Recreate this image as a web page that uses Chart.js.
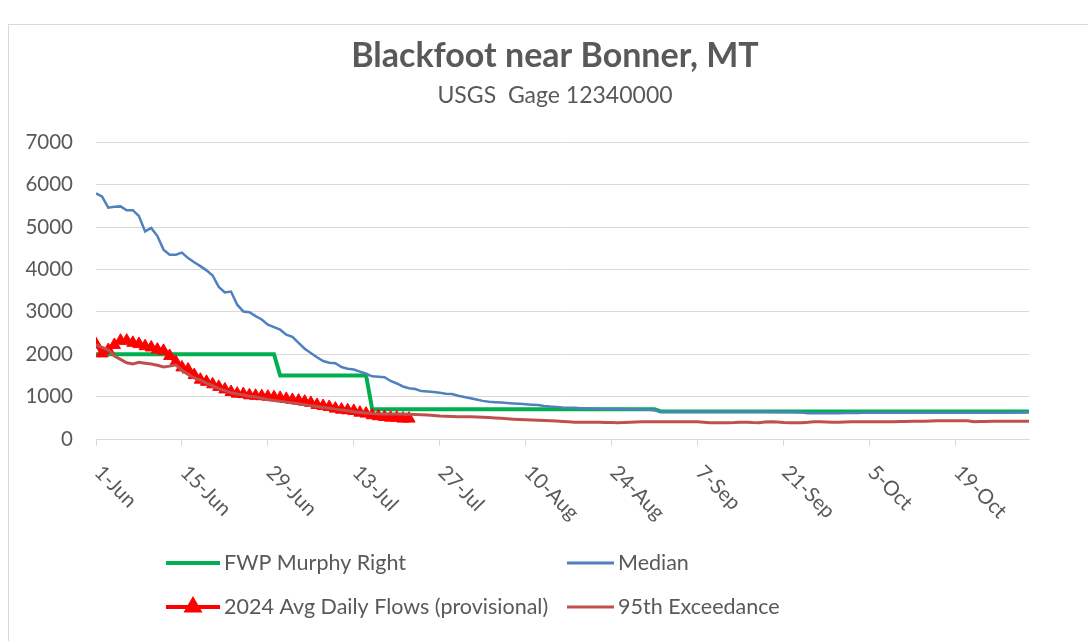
<!DOCTYPE html>
<html>
<head>
<meta charset="utf-8">
<title>Blackfoot near Bonner, MT</title>
<script src="https://cdn.jsdelivr.net/npm/chart.js@4.4.1/dist/chart.umd.min.js"></script>
<style>
  html, body { margin: 0; padding: 0; background: #fff; }
  #wrap { position: relative; width: 1088px; height: 641px; overflow: hidden; }
  #flowChart { position: absolute; left: 0; top: 0; }
  #frame {
    position: absolute; left: 8px; top: 24px; width: 1300px; height: 900px;
    border-left: 1px solid #d9d9d9; border-top: 1px solid #d9d9d9;
    pointer-events: none;
  }
</style>
</head>
<body>
<div id="wrap">
  <canvas id="flowChart" width="1088" height="641"></canvas>
  <div id="frame"></div>
</div>
<script>
// x axis = day index from 1-Jun (0) to 31-Oct (152), a label every 14 days
const TICK_LABELS = ["1-Jun", "15-Jun", "29-Jun", "13-Jul", "27-Jul", "10-Aug",
                     "24-Aug", "7-Sep", "21-Sep", "5-Oct", "19-Oct"];

// FWP Murphy Right, cfs (step values by day index)
const MURPHY_DAY = [0, 29, 30, 44, 45, 91, 92, 152];
const MURPHY_CFS = [2000, 2000, 1500, 1500, 700, 700, 650, 650];

// Median daily flow, cfs, 1-Jun .. 31-Oct
const MEDIAN = [
  5800, 5720, 5460, 5480, 5490, 5400, 5400, 5260, 4900, 4980,
  4790, 4470, 4350, 4350, 4400, 4270, 4170, 4080, 3980, 3860,
  3590, 3460, 3480, 3170, 3010, 2990, 2900, 2820, 2700, 2640,
  2580, 2460, 2410, 2270, 2130, 2030, 1930, 1840, 1800, 1790,
  1700, 1660, 1640, 1590, 1540, 1480, 1470, 1460, 1370, 1310,
  1240, 1200, 1180, 1130, 1120, 1110, 1090, 1070, 1060, 1020,
  990, 960, 930, 900, 880, 870, 860, 850, 840, 830,
  820, 810, 800, 780, 765, 755, 745, 740, 735, 728,
  722, 716, 712, 710, 710, 710, 706, 703, 702, 696,
  688, 680, 650, 646, 646, 646, 646, 646, 646, 648,
  648, 646, 646, 646, 646, 646, 646, 644, 644, 642,
  640, 640, 638, 636, 632, 626, 610, 608, 608, 608,
  610, 610, 612, 614, 616, 618, 618, 620, 620, 620,
  620, 620, 618, 618, 620, 620, 622, 622, 622, 620,
  620, 620, 622, 622, 622, 620, 620, 620, 622, 622,
  624, 626, 630
];

// 95th exceedance flow, cfs, 1-Jun .. 31-Oct
const EXCEED_95 = [
  2220, 2160, 2100, 1960, 1880, 1800, 1770, 1810, 1790, 1770,
  1740, 1700, 1720, 1750, 1620, 1520, 1440, 1390, 1320, 1260,
  1190, 1140, 1090, 1060, 1040, 1010, 990, 960, 930, 910,
  890, 870, 850, 830, 810, 785, 765, 745, 725, 705,
  685, 665, 645, 628, 612, 600, 592, 590, 590, 590,
  588, 585, 580, 575, 568, 555, 542, 535, 530, 528,
  527, 525, 520, 513, 505, 495, 488, 478, 468, 460,
  455, 449, 444, 438, 433, 425, 415, 408, 398, 395,
  395, 395, 395, 392, 388, 386, 390, 395, 400, 405,
  409, 409, 409, 409, 409, 409, 409, 409, 405, 395,
  386, 386, 386, 386, 388, 395, 395, 388, 386, 400,
  409, 400, 390, 386, 386, 386, 395, 409, 405, 400,
  397, 395, 400, 405, 409, 409, 409, 409, 409, 409,
  410, 412, 414, 417, 420, 421, 424, 428, 431, 433,
  433, 433, 430, 410, 412, 414, 416, 418, 420, 421,
  421, 421, 421
];

// 2024 provisional average daily flow, cfs, 1-Jun .. 22-Jul
const FLOW_2024 = [
  2240, 2020, 2100, 2220, 2320, 2320, 2270, 2240, 2190, 2160,
  2110, 2080, 1960, 1820, 1690, 1640, 1510, 1400, 1350, 1290,
  1230, 1170, 1110, 1070, 1060, 1030, 1020, 1010, 1000, 985,
  970, 946, 922, 906, 882, 851, 804, 780, 757, 717,
  693, 678, 662, 622, 599, 560, 537, 520, 504, 504,
  481, 481
];

const FONT = "Lato, 'Open Sans', sans-serif";
const TEXT = "#595959";
const GRID = "#d9d9d9";

const byDay = (arr) => arr.map((v, i) => ({ x: i, y: v }));

// Legend laid out in two columns, like the spreadsheet one
const LEGEND = [
  { label: "FWP Murphy Right", color: "#00b050", width: 4, x: 166, y: 563 },
  { label: "Median", color: "#4f81bd", width: 3, x: 567, y: 563 },
  { label: "2024 Avg Daily Flows (provisional)", color: "#ff0000", width: 4, x: 166, y: 607, marker: true },
  { label: "95th Exceedance", color: "#c0504d", width: 3, x: 567, y: 607 },
];

const legendPlugin = {
  id: "twoColLegend",
  afterDraw(chart) {
    const ctx = chart.ctx;
    ctx.save();
    ctx.font = `21.5px ${FONT}`;
    ctx.textBaseline = "middle";
    ctx.textAlign = "left";
    for (const it of LEGEND) {
      const len = it.x === 166 ? 54 : 47;
      ctx.strokeStyle = it.color;
      ctx.lineWidth = it.width;
      ctx.beginPath();
      ctx.moveTo(it.x, it.y);
      ctx.lineTo(it.x + len, it.y);
      ctx.stroke();
      if (it.marker) {
        Chart.helpers.drawPoint(ctx, { pointStyle: "triangle", radius: 7, borderWidth: 1 },
          it.x + len / 2, it.y);
        ctx.fillStyle = it.color;
        ctx.fill();
      }
      ctx.fillStyle = TEXT;
      ctx.fillText(it.label, it.x + len + 4, it.y);
    }
    ctx.restore();
  },
};

// Axis labels drawn by hand so they can sit outside the (narrow) scale boxes:
// y values right-aligned at x=73, dates slanting down-right from each tick
const axisLabels = {
  id: "axisLabels",
  afterDraw(chart) {
    const { x: xs, y: ys } = chart.scales;
    const ctx = chart.ctx;
    ctx.save();
    ctx.fillStyle = TEXT;
    ctx.textBaseline = "middle";

    ctx.font = `20.5px ${FONT}`;
    ctx.textAlign = "right";
    ys.ticks.forEach((t) => {
      ctx.fillText(String(t.value), 73, ys.getPixelForValue(t.value));
    });

    ctx.textAlign = "left";
    xs.ticks.forEach((t) => {
      const label = TICK_LABELS[Math.round(t.value / 14)];
      if (!label) return;
      const px = xs.getPixelForValue(t.value);
      ctx.save();
      ctx.translate(px + 2, xs.top + 30);
      ctx.rotate(Math.PI / 4);
      ctx.fillText(label, 0, 0);
      ctx.restore();
    });
    ctx.restore();
  },
};

new Chart(document.getElementById("flowChart"), {
  type: "line",
  data: {
    datasets: [
      {
        label: "FWP Murphy Right",
        data: MURPHY_DAY.map((d, i) => ({ x: d, y: MURPHY_CFS[i] })),
        borderColor: "#00b050",
        borderWidth: 4,
        pointRadius: 0,
        order: 4,
      },
      {
        label: "Median",
        data: byDay(MEDIAN),
        borderColor: "#4f81bd",
        borderWidth: 2.5,
        pointRadius: 0,
        order: 3,
      },
      {
        label: "2024 Avg Daily Flows (provisional)",
        data: byDay(FLOW_2024),
        borderColor: "#ff0000",
        backgroundColor: "#ff0000",
        borderWidth: 4,
        pointStyle: "triangle",
        pointRadius: 7,
        pointBorderWidth: 1,
        order: 2,
      },
      {
        label: "95th Exceedance",
        data: byDay(EXCEED_95),
        borderColor: "#c0504d",
        borderWidth: 3,
        pointRadius: 0,
        order: 1,
      },
    ],
  },
  options: {
    responsive: false,
    animation: false,
    // left padding centres the title over the plot; the y axis box takes the rest
    layout: { padding: { left: 81, right: 59, top: 0, bottom: 0 } },
    plugins: {
      legend: { display: false },
      tooltip: { enabled: false },
      title: {
        display: true,
        text: "Blackfoot near Bonner, MT",
        color: TEXT,
        font: { family: FONT, size: 34, weight: "bold" },
        padding: { top: 36, bottom: 0 },
      },
      subtitle: {
        display: true,
        text: "USGS  Gage 12340000",
        color: TEXT,
        font: { family: FONT, size: 23 },
        padding: { top: 5, bottom: 33 },
      },
    },
    scales: {
      x: {
        type: "linear",
        min: 0,
        max: 152,
        ticks: { display: false, stepSize: 14, includeBounds: false },
        grid: { drawOnChartArea: false, drawTicks: true, tickLength: 7, color: GRID },
        border: { color: GRID },
        afterFit: (s) => { s.height = 202; },
      },
      y: {
        min: 0,
        max: 7000,
        ticks: { display: false, stepSize: 1000 },
        grid: { color: GRID, drawTicks: false },
        border: { display: false },
        afterFit: (s) => { s.width = 15; },
      },
    },
  },
  plugins: [axisLabels, legendPlugin],
});
</script>
</body>
</html>
